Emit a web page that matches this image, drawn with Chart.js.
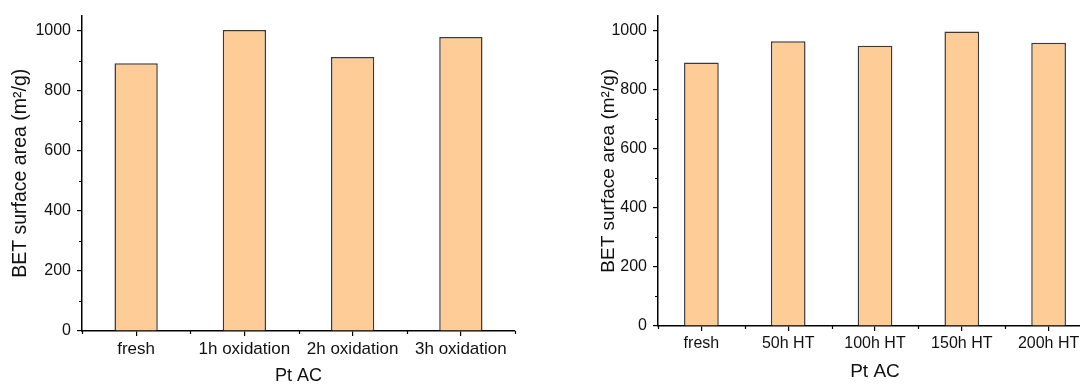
<!DOCTYPE html>
<html>
<head>
<meta charset="utf-8">
<script src="https://cdn.jsdelivr.net/npm/chart.js@4"></script>
<style>
    html, body { margin: 0; padding: 0; background: #fff; overflow: hidden; width: 1080px; height: 387px; }
    .panel { position: absolute; top: 0; }
    #leftPanel { left: 0; }
    #rightPanel { left: 560px; }
</style>
</head>
<body>
<div class="panel" id="leftPanel"><canvas id="oxidationChart" width="540" height="387"></canvas></div>
<div class="panel" id="rightPanel"><canvas id="htChart" width="560" height="387"></canvas></div>
<script>
// BET surface area of Pt AC samples
const oxidationLabels = ['fresh', '1h oxidation', '2h oxidation', '3h oxidation'];
const oxidationValues = [891, 1002, 912, 979];

const htLabels = ['fresh', '50h HT', '100h HT', '150h HT', '200h HT'];
const htValues = [891, 963, 948, 996, 958];

const yMax = 1050;
const yStep = 200;
const yMinorTicks = [100, 300, 500, 700, 900];

const FONT = "'Liberation Sans', Arial, sans-serif";
const BAR_FILL = '#fecc96';
const BAR_EDGE = '#3a3a3a';

// Short minor ticks between the labelled ones (y) and at category edges (x)
const minorTicks = {
    id: 'minorTicks',
    afterDraw(chart) {
        const ctx = chart.ctx;
        const x = chart.scales.x;
        const y = chart.scales.y;
        const area = chart.chartArea;
        ctx.save();
        ctx.strokeStyle = '#000';
        ctx.lineWidth = 1.2;
        ctx.beginPath();
        yMinorTicks.forEach(v => {
            const py = Math.round(y.getPixelForValue(v)) + 0.5;
            ctx.moveTo(area.left, py);
            ctx.lineTo(area.left - 3, py);
        });
        const n = chart.data.labels.length;
        for (let i = 0; i <= n; i++) {
            const px = Math.round(x.getPixelForValue(i - 0.5)) + 0.5;
            ctx.moveTo(px, area.bottom);
            ctx.lineTo(px, area.bottom + 3);
        }
        ctx.stroke();
        ctx.restore();
    }
};

function makeChart(canvasId, labels, values, cfg) {
    const ctx = document.getElementById(canvasId).getContext('2d');
    return new Chart(ctx, {
        type: 'bar',
        data: {
            labels: labels,
            datasets: [{
                data: values,
                backgroundColor: BAR_FILL,
                borderColor: BAR_EDGE,
                borderWidth: 1.5,
                barPercentage: 0.4,
                categoryPercentage: 1
            }]
        },
        options: {
            responsive: false,
            animation: false,
            devicePixelRatio: 1,
            layout: { padding: cfg.padding },
            plugins: {
                legend: { display: false },
                tooltip: { enabled: false }
            },
            scales: {
                x: {
                    grid: {
                        drawOnChartArea: false,
                        offset: false,
                        color: '#000',
                        lineWidth: 1.2,
                        tickLength: 5
                    },
                    border: { color: '#000', width: 1.5 },
                    ticks: {
                        color: '#111',
                        padding: 3,
                        maxRotation: 0,
                        autoSkip: false,
                        font: { family: FONT, size: cfg.xTickSize }
                    },
                    title: {
                        display: true,
                        text: 'Pt AC',
                        color: '#111',
                        padding: { top: 0, bottom: cfg.xTitlePad },
                        font: { family: FONT, size: cfg.xTitleSize }
                    },
                    afterFit: s => { s.height = cfg.xHeight; }
                },
                y: {
                    min: 0,
                    max: yMax,
                    grid: {
                        drawOnChartArea: false,
                        color: '#000',
                        lineWidth: 1.2,
                        tickLength: 5
                    },
                    border: { color: '#000', width: 1.5 },
                    ticks: {
                        stepSize: yStep,
                        includeBounds: false,
                        color: '#111',
                        padding: 6,
                        font: { family: FONT, size: 16 },
                        callback: v => String(v)
                    },
                    title: {
                        display: true,
                        text: 'BET surface area (m²/g)',
                        color: '#111',
                        padding: { top: cfg.yTitlePad, bottom: 0 },
                        font: { family: FONT, size: cfg.yTitleSize }
                    },
                    afterFit: s => { s.width = cfg.yWidth; }
                }
            }
        },
        plugins: [minorTicks]
    });
}

makeChart('oxidationChart', oxidationLabels, oxidationValues, {
    padding: { top: 14, right: 25, left: 0, bottom: 0 },
    yWidth: 82,
    xHeight: 56,
    xTickSize: 17,
    xTitleSize: 18,
    yTitleSize: 19.5,
    xTitlePad: 0,
    yTitlePad: 9
});

makeChart('htChart', htLabels, htValues, {
    padding: { top: 10, right: 28, left: 0, bottom: 0 },
    yWidth: 98,
    xHeight: 61,
    xTickSize: 16,
    xTitleSize: 19,
    yTitleSize: 19,
    xTitlePad: 3.5,
    yTitlePad: 37
});
</script>
</body>
</html>
